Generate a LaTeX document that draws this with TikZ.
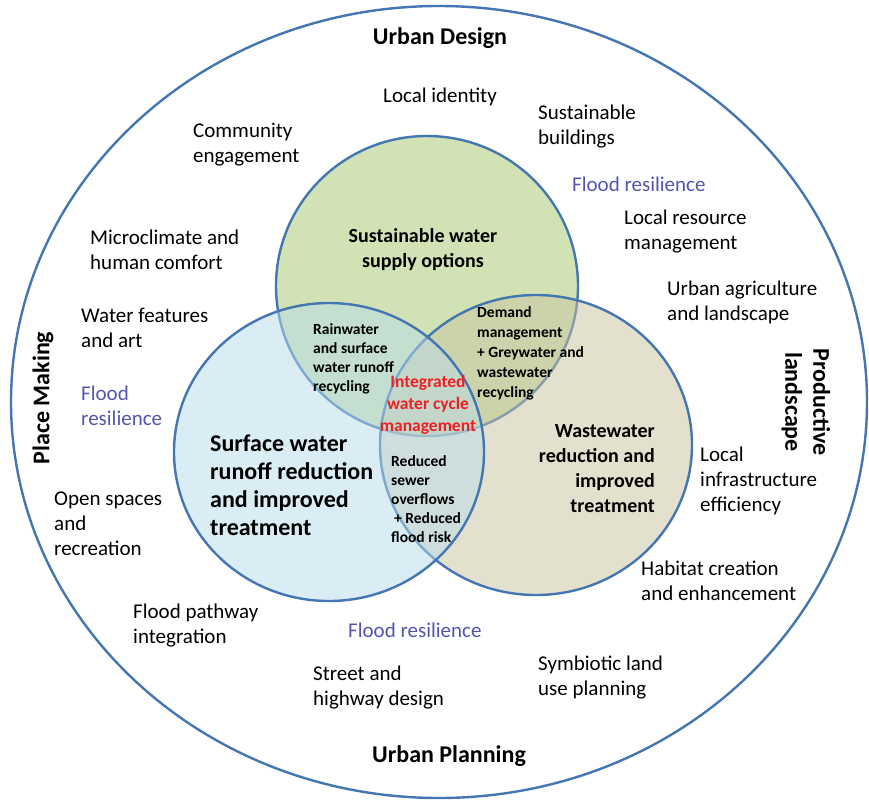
\documentclass[tikz,border=0pt]{standalone}
\usepackage{fontspec}
\setmainfont{Carlito}
\definecolor{lineblue}{RGB}{68,118,178}
\definecolor{gfill}{RGB}{209,227,180}
\definecolor{bfill}{RGB}{185,221,235}
\definecolor{efill}{RGB}{201,195,159}
\definecolor{floodblue}{RGB}{85,85,175}
\definecolor{intred}{RGB}{238,32,36}
\begin{document}
\begin{tikzpicture}[x=1pt,y=-1pt,
  ring/.style={draw=lineblue,line width=2.4pt},
  txt/.style={font=\fontsize{21}{25}\selectfont,align=left,inner sep=0pt,anchor=west},
  flood/.style={txt,text=floodblue},
  hdr/.style={font=\fontsize{24}{28}\selectfont\bfseries,inner sep=0pt,align=center},
  mainlbl/.style={font=\fontsize{20}{25}\selectfont\bfseries,inner sep=0pt},
  biglbl/.style={font=\fontsize{24}{28}\selectfont\bfseries,inner sep=0pt,align=left,anchor=west},
  smalllbl/.style={font=\fontsize{15.5}{19}\selectfont\bfseries,inner sep=0pt,align=left,anchor=west},
  redlbl/.style={font=\fontsize{17.5}{21.7}\selectfont\bfseries,inner sep=0pt,align=center,text=intred}]
\useasboundingbox (0,0) rectangle (869,801);
\fill[white] (0,0) rectangle (869,801);
% outer ring
\draw[ring] (439,402) ellipse [x radius=428pt, y radius=396pt];
% circles
\draw[ring,fill=gfill] (427,286) ellipse [x radius=151pt, y radius=150pt];
\draw[ring,fill=efill,fill opacity=0.5] (536,445) ellipse [x radius=156pt, y radius=150pt];
\draw[ring,fill=bfill,fill opacity=0.5] (329,452) ellipse [x radius=155pt, y radius=149pt];

% headings
\node[hdr] (ud) at (440,38) {Urban Design};
\node[hdr] (up) at (449,756) {Urban Planning};
\node[hdr,rotate=90] (pm) at (43,398) {Place Making};
\node[hdr,rotate=-90] (pl) at (806,402) {Productive\\landscape};

% outer items
\node[txt] (li) at (383,97) {Local identity};
\node[txt] (sb) at (538,127) {Sustainable\\buildings};
\node[txt] (ce) at (193,144.5) {Community\\engagement};
\node[flood] (fr1) at (572,184) {Flood resilience};
\node[txt] (lr) at (624,232) {Local resource\\management};
\node[txt] (mc) at (90,249.5) {Microclimate and\\human comfort};
\node[txt] (ua) at (667,302) {Urban agriculture\\and landscape};
\node[txt] (wf) at (81,327.5) {Water features\\and art};
\node[flood] (fr2) at (81,406) {Flood\\resilience};
\node[txt] (lie) at (700,481) {Local\\infrastructure\\efficiency};
\node[txt] (os) at (54,524) {Open spaces\\and\\recreation};
\node[txt] (hc) at (641,580.5) {Habitat creation\\and enhancement};
\node[txt] (fp) at (133,625.5) {Flood pathway\\integration};
\node[flood] (fr3) at (348,630) {Flood resilience};
\node[txt] (sl) at (538,677.5) {Symbiotic land\\use planning};
\node[txt] (sh) at (313,687.5) {Street and\\highway design};

% circle labels
\node[mainlbl,align=center] (sw) at (423,250) {Sustainable water\\supply options};
\node[biglbl] (sr) at (210,485) {Surface water\\runoff reduction\\and improved\\treatment};
\node[mainlbl,align=right,anchor=east] (ww) at (655,469) {Wastewater\\reduction and\\improved\\treatment};

% overlap labels
\node[smalllbl] (rw) at (313,358.5) {Rainwater\\and surface\\water runoff\\recycling};
\node[smalllbl,font=\fontsize{15.5}{20}\selectfont\bfseries] (dm) at (477,353) {Demand\\management\\+ Greywater and\\wastewater\\recycling};
\node[smalllbl] (rs) at (391,499) {Reduced\\sewer\\overflows\\\hspace{3pt}+ Reduced\\flood risk};
\node[redlbl] (iw) at (428,405) {Integrated\\water cycle\\management};
\end{tikzpicture}
\end{document}
